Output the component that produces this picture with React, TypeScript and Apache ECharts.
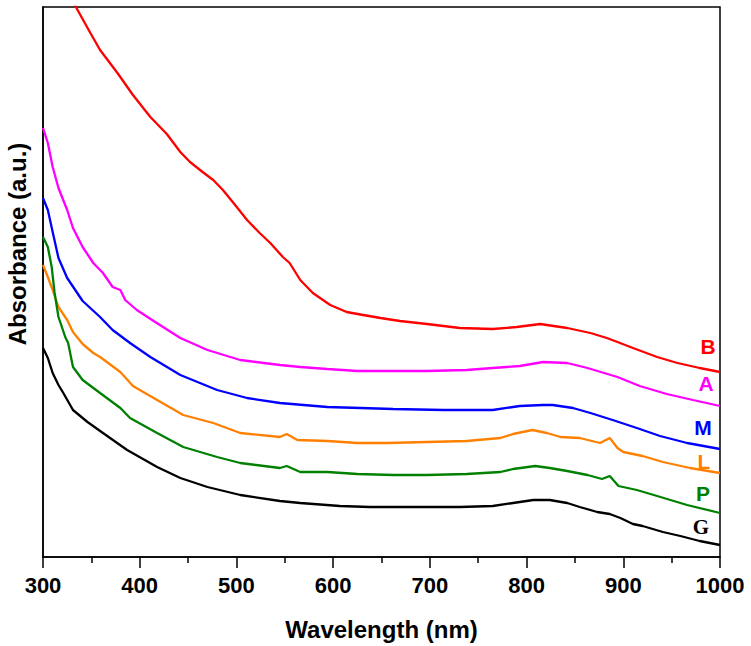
import React, { useEffect, useRef } from "react";
import * as echarts from "echarts";

// Wavelength (nm) / absorbance (a.u.) pairs
const wlB = [330, 334, 349, 359, 377, 393, 411, 428, 442, 452, 465, 476, 486, 497, 511, 524, 535, 548, 555, 566, 579, 597, 614, 631, 649, 669, 697, 731, 765, 790, 814, 842, 866, 883, 894, 910, 935, 956, 979, 1000];
const absB = [5.56, 5.5, 5.24, 5.07, 4.84, 4.62, 4.4, 4.23, 4.05, 3.95, 3.85, 3.77, 3.67, 3.54, 3.37, 3.24, 3.14, 3.0, 2.94, 2.77, 2.64, 2.52, 2.45, 2.42, 2.39, 2.36, 2.33, 2.29, 2.28, 2.3, 2.33, 2.29, 2.24, 2.19, 2.15, 2.09, 2.0, 1.94, 1.89, 1.85];

const wlA = [300, 305, 310, 316, 325, 331, 341, 352, 362, 372, 380, 385, 397, 416, 442, 470, 504, 545, 566, 594, 625, 662, 697, 738, 765, 793, 817, 842, 863, 894, 917, 945, 972, 1000];
const absA = [4.29, 4.14, 3.9, 3.69, 3.47, 3.29, 3.1, 2.94, 2.84, 2.7, 2.67, 2.57, 2.47, 2.35, 2.19, 2.07, 1.97, 1.92, 1.9, 1.88, 1.86, 1.86, 1.86, 1.87, 1.89, 1.91, 1.95, 1.94, 1.89, 1.8, 1.71, 1.63, 1.57, 1.51];

const wlM = [300, 305, 310, 316, 325, 341, 359, 372, 390, 411, 442, 480, 511, 545, 594, 662, 714, 765, 793, 817, 827, 848, 866, 889, 914, 938, 966, 1000];
const absM = [3.59, 3.47, 3.25, 2.99, 2.79, 2.56, 2.4, 2.27, 2.14, 2.0, 1.82, 1.67, 1.59, 1.54, 1.5, 1.48, 1.47, 1.47, 1.51, 1.52, 1.52, 1.49, 1.44, 1.37, 1.29, 1.21, 1.14, 1.08];

const wlL = [300, 305, 310, 316, 325, 331, 341, 352, 359, 380, 393, 418, 445, 476, 504, 545, 552, 563, 594, 625, 656, 697, 738, 773, 786, 806, 821, 835, 855, 876, 886, 894, 900, 920, 941, 969, 1000];
const absL = [2.92, 2.8, 2.67, 2.5, 2.37, 2.25, 2.13, 2.04, 2.0, 1.85, 1.71, 1.57, 1.42, 1.34, 1.24, 1.2, 1.23, 1.17, 1.16, 1.14, 1.14, 1.15, 1.16, 1.19, 1.23, 1.27, 1.24, 1.2, 1.19, 1.14, 1.19, 1.09, 1.05, 1.01, 0.95, 0.89, 0.84];

const wlP = [300, 305, 309, 312, 316, 323, 326, 331, 341, 359, 380, 390, 418, 445, 480, 504, 545, 552, 566, 594, 625, 662, 697, 738, 773, 786, 809, 824, 842, 863, 878, 886, 895, 914, 935, 966, 1000];
const absP = [3.2, 3.1, 2.9, 2.64, 2.4, 2.2, 2.14, 1.9, 1.77, 1.64, 1.49, 1.39, 1.24, 1.1, 1.0, 0.94, 0.89, 0.91, 0.85, 0.85, 0.83, 0.82, 0.82, 0.83, 0.85, 0.88, 0.91, 0.89, 0.86, 0.82, 0.78, 0.81, 0.71, 0.67, 0.61, 0.52, 0.44];

const wlG = [300, 305, 310, 316, 321, 331, 346, 362, 387, 418, 442, 470, 504, 545, 566, 607, 638, 683, 731, 765, 793, 807, 824, 842, 855, 873, 886, 897, 910, 920, 941, 959, 979, 1000];
const absG = [2.09, 1.99, 1.84, 1.72, 1.64, 1.47, 1.35, 1.24, 1.07, 0.9, 0.79, 0.7, 0.62, 0.56, 0.54, 0.51, 0.5, 0.5, 0.5, 0.51, 0.55, 0.57, 0.57, 0.54, 0.5, 0.45, 0.43, 0.39, 0.33, 0.31, 0.25, 0.21, 0.16, 0.12];

const seriesNames = ["B", "A", "M", "L", "P", "G"];
const seriesColors = ["#ff0000", "#ff00ff", "#0000ff", "#ff8000", "#008000", "#000000"];
const seriesX = [wlB, wlA, wlM, wlL, wlP, wlG];
const seriesY = [absB, absA, absM, absL, absP, absG];

const xTicks = [300, 400, 500, 600, 700, 800, 900, 1000];
const yTitle = "Absorbance (a.u.)";
const xTitle = "Wavelength (nm)";

export default function App() {
  const ref = useRef<HTMLDivElement>(null);
  useEffect(() => {
    document.body.style.margin = "0";
    if (!ref.current) return;
    const chart = echarts.init(ref.current, null, { renderer: "svg" });
    const sans = "'Liberation Sans', Arial, sans-serif";
    const labelPos = [
      [708, 346],
      [706, 383],
      [703, 427],
      [704, 461],
      [703, 493],
      [701, 527],
    ];
    const labels = seriesNames.map((name, i) => ({
      type: "text",
      x: labelPos[i][0],
      y: labelPos[i][1],
      style: {
        text: name,
        fill: seriesColors[i],
        font:
          name === "G"
            ? "bold 21px 'Liberation Serif', 'Times New Roman', serif"
            : "bold 21px 'Liberation Sans', Arial, sans-serif",
        textAlign: "center",
        textVerticalAlign: "middle",
      },
    }));
    chart.setOption({
      animation: false,
      backgroundColor: "#ffffff",
      grid: {
        left: 43,
        right: 31,
        top: 7,
        bottom: 89,
        containLabel: false,
        outerBoundsMode: "none",
        show: true,
        borderColor: "#000",
        borderWidth: 1.5,
        backgroundColor: "transparent",
      },
      xAxis: {
        type: "value",
        min: 300,
        max: 1000,
        interval: 100,
        name: xTitle,
        nameLocation: "middle",
        nameGap: 60,
        nameTextStyle: { fontFamily: sans, fontWeight: "bold", fontSize: 24, color: "#000" },
        axisLine: { show: true, lineStyle: { color: "#000", width: 1.5 } },
        axisTick: { show: true, inside: false, length: 11, lineStyle: { color: "#000", width: 1.5 } },
        minorTick: { show: true, splitNumber: 2, length: 6, lineStyle: { color: "#000", width: 1.5 } },
        splitLine: { show: false },
        axisLabel: {
          margin: 17,
          fontFamily: sans,
          fontWeight: "bold",
          fontSize: 22,
          color: "#000",
          formatter: (v: number) => (xTicks.includes(v) ? String(v) : ""),
        },
      },
      yAxis: {
        type: "value",
        min: 0,
        max: 5.5,
        axisLine: { show: true, lineStyle: { color: "#000", width: 1.5 } },
        axisTick: { show: false },
        axisLabel: { show: false },
        splitLine: { show: false },
      },
      series: seriesNames.map((name, i) => ({
        name,
        type: "line",
        showSymbol: false,
        symbol: "none",
        clip: true,
        smooth: false,
        lineStyle: { color: seriesColors[i], width: 2.3 },
        data: seriesX[i].map((x, j) => [x, seriesY[i][j]]),
      })),
      graphic: [
        ...labels,
        {
          type: "text",
          x: 17,
          y: 244,
          rotation: Math.PI / 2,
          style: {
            text: yTitle,
            fill: "#000",
            font: "bold 24px 'Liberation Sans', Arial, sans-serif",
            textAlign: "center",
            textVerticalAlign: "middle",
          },
        },
      ],
    });
    return () => chart.dispose();
  }, []);
  return <div ref={ref} style={{ width: 751, height: 646 }} />;
}
